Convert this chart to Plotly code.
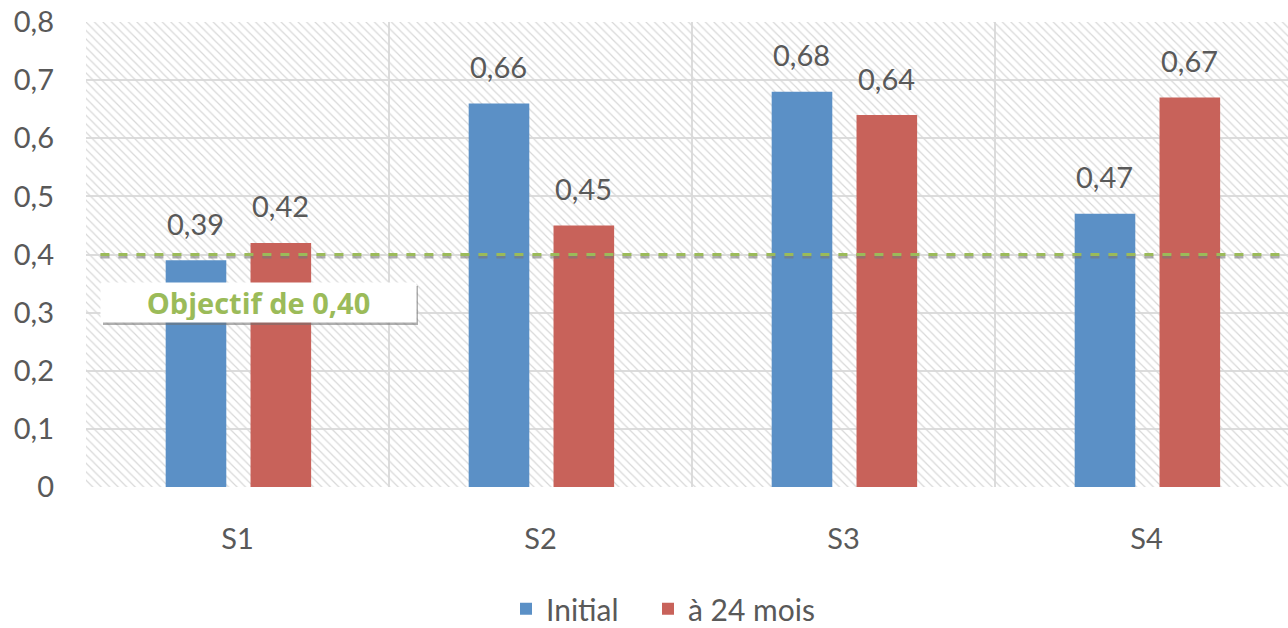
import plotly.graph_objects as go

categories = ["S1", "S2", "S3", "S4"]
initial = [0.39, 0.66, 0.68, 0.47]
mois24 = [0.42, 0.45, 0.64, 0.67]
series_names = ["Initial", "à 24 mois"]
target = 0.40
target_label = "Objectif de 0,40"
y_ticks = [0, 0.1, 0.2, 0.3, 0.4, 0.5, 0.6, 0.7, 0.8]


def fr(v, nd=2):
    if v == 0:
        return "0"
    return f"{v:.{nd}f}".replace(".", ",")


y_ticktext = [fr(v, 1) for v in y_ticks]

BLUE = "#5b90c6"
RED = "#c8625a"
GREEN = "#9bbb59"
TXT = "#595959"
GRID = "#dcdcdc"
FONT = "Lato"
FS = 29

xpos = list(range(len(categories)))
bw = 0.2
off_b = -0.237
off_r = 0.043

fig = go.Figure()

# hatched plot background
fig.add_trace(go.Bar(
    x=[1.5], y=[0.8], width=[6], base=0,
    marker=dict(color="rgba(0,0,0,0)", line=dict(width=0),
                pattern=dict(shape="\\", fgcolor="#d8d8d8", size=6, solidity=0.2, fillmode="replace")),
    showlegend=False, hoverinfo="skip"))

fig.add_trace(go.Bar(x=xpos, y=initial, name=series_names[0], width=bw, offset=off_b,
                     marker=dict(color=BLUE, line=dict(width=0)), legend="legend"))
fig.add_trace(go.Bar(x=xpos, y=mois24, name=series_names[1], width=bw, offset=off_r,
                     marker=dict(color=RED, line=dict(width=0)), legend="legend2"))

# data labels
for i in xpos:
    fig.add_annotation(x=i + off_b + bw / 2, y=initial[i], text=fr(initial[i]), showarrow=False,
                       yanchor="middle", yshift=37, font=dict(family=FONT, size=FS, color=TXT))
    fig.add_annotation(x=i + off_r + bw / 2, y=mois24[i], text=fr(mois24[i]), showarrow=False,
                       yanchor="middle", yshift=37, font=dict(family=FONT, size=FS, color=TXT))

# target line with shadow
fig.add_shape(type="line", xref="paper", yref="y", x0=0.012, x1=1, ysizemode="pixel",
              yanchor=target, y0=-2.5, y1=-2.5, line=dict(color="rgba(120,120,120,0.6)", width=3, dash="dash"))
fig.add_shape(type="line", xref="paper", yref="y", x0=0.012, x1=1, y0=target, y1=target,
              line=dict(color=GREEN, width=3, dash="dash"))

# label box shadow
fig.add_shape(type="rect", xref="paper", yref="paper",
              x0=(103 - 86) / 1202, x1=(418 - 86) / 1202,
              y0=(487 - 325) / 465, y1=(487 - 286) / 465,
              fillcolor="rgba(110,110,110,0.55)", line=dict(width=0), layer="above")
fig.add_annotation(xref="paper", yref="paper", x=(100 - 86) / 1202, xanchor="left",
                   y=(487 - 302.5) / 465, yanchor="middle", text="<b>" + target_label + "</b>",
                   showarrow=False, bgcolor="white", width=311, height=35, borderpad=2,
                   align="center", font=dict(family="Open Sans", size=29, color=GREEN))

legend_common = dict(orientation="h", xanchor="left", y=-0.262, yanchor="middle",
                     font=dict(family=FONT, size=30, color=TXT), itemclick=False,
                     bgcolor="rgba(0,0,0,0)")

fig.update_layout(
    width=1288, height=628,
    margin=dict(l=86, r=0, t=22, b=141, autoexpand=False),
    paper_bgcolor="white", plot_bgcolor="white",
    barmode="overlay",
    font=dict(family=FONT, size=FS, color=TXT),
    showlegend=True,
    legend=dict(x=(506 - 86) / 1202, **legend_common),
    legend2=dict(x=(648 - 86) / 1202, **legend_common),
    xaxis=dict(range=[-0.5, 3.467], tickvals=xpos, ticktext=categories, showgrid=False,
               zeroline=False, showline=False, ticks="", ticklabelstandoff=32, automargin=False,
               minor=dict(tickvals=[-0.5, 0.5, 1.5, 2.5, 3.5], showgrid=True, gridcolor=GRID, gridwidth=2)),
    yaxis=dict(range=[0, 0.8], tickvals=y_ticks, ticktext=y_ticktext, showgrid=True,
               gridcolor=GRID, gridwidth=2, zeroline=False, showline=False, ticks="",
               ticklabelstandoff=31, automargin=False),
)

fig.write_html("out.html", config={"displayModeBar": False},
               post_script="document.body.style.margin='0px';document.body.style.overflow='hidden';")
